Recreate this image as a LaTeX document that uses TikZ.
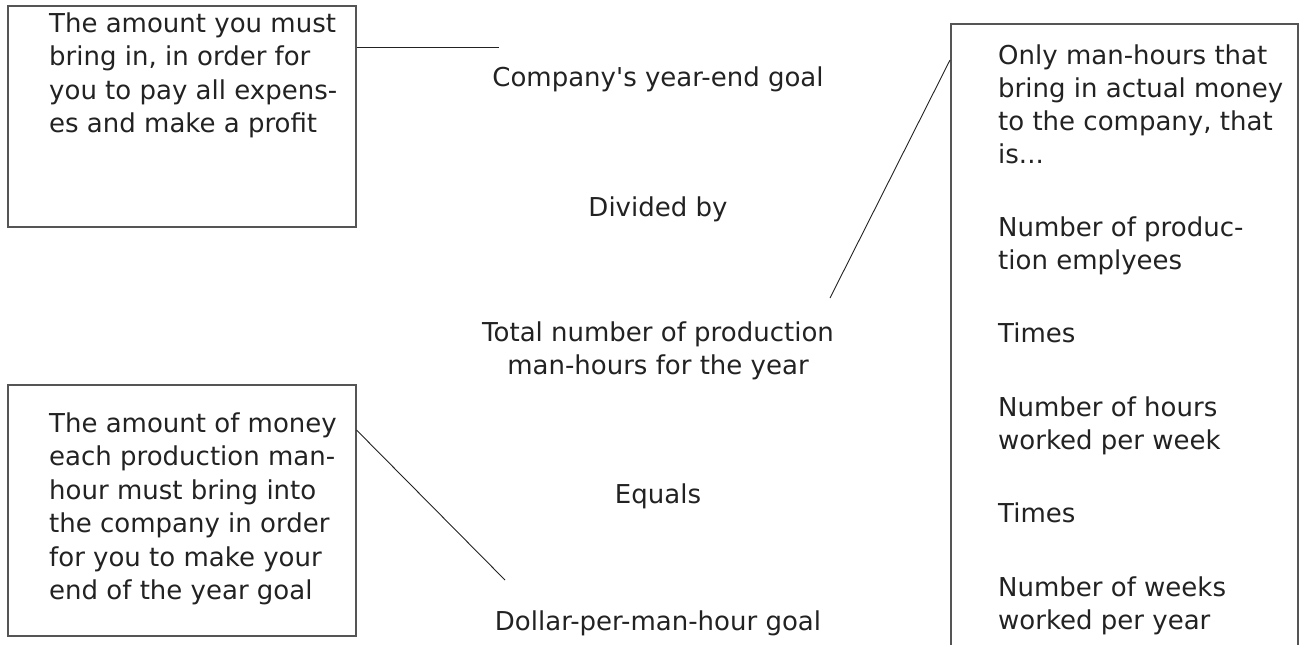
\documentclass[tikz,border=0pt]{standalone}
\usepackage{fontspec}
\setmainfont{DejaVu Sans}
\definecolor{ink}{HTML}{222222}
\definecolor{edge}{HTML}{555555}
\begin{document}
\begin{tikzpicture}[x=1pt,y=-1pt,
  boxstyle/.style={draw=edge, line width=1.5pt, inner sep=0pt, anchor=north west, minimum width=348pt},
  txt/.style={font=\fontsize{26}{33.5}\selectfont, text=ink, inner sep=0pt, align=left, anchor=base west},
  ctxt/.style={font=\fontsize{26}{33}\selectfont, text=ink, inner sep=0pt, align=center, anchor=base},
  rtxt/.style={font=\fontsize{26}{33}\selectfont, text=ink, inner sep=0pt, align=left, anchor=base west},
  leader/.style={draw=ink, line width=0.9pt}]
\useasboundingbox (0,0) rectangle (1299,645);
\clip (0,0) rectangle (1299,645);
% boxes
\node[boxstyle, minimum height=221pt] (b1) at (7,5) {};
\node[boxstyle, minimum height=251pt] (b2) at (7,384) {};
\node[boxstyle, minimum width=347pt, minimum height=700pt] (b3) at (950,23) {};
% box texts (anchored at the baseline of the last line)
\node[txt] (t1) at (49,132.5) {The amount you must\\bring in, in order for\\you to pay all expens-\\es and make a profit};
\node[txt] (t2) at (49,599.5) {The amount of money\\each production man-\\hour must bring into\\the company in order\\for you to make your\\end of the year goal};
% centre column
\node[ctxt] (goal) at (658,86) {Company\textquotesingle s year-end goal};
\node[ctxt] (div) at (658,216) {Divided by};
\node[ctxt] (total) at (658,374) {Total number of production\\man-hours for the year};
\node[ctxt] (eq) at (658,503) {Equals};
\node[ctxt] (dollar) at (658,630) {Dollar-per-man-hour goal};
% right column
\node[rtxt] (r1) at (998,163) {Only man-hours that\\bring in actual money\\to the company, that\\is...};
\node[rtxt] (r2) at (998,269) {Number of produc-\\tion emplyees};
\node[rtxt] (r3) at (998,342) {Times};
\node[rtxt] (r4) at (998,449) {Number of hours\\worked per week};
\node[rtxt] (r5) at (998,522) {Times};
\node[rtxt] (r6) at (998,629) {Number of weeks\\worked per year};
% leader lines
\coordinate (c1) at (499,47);
\coordinate (c2) at (830,298);
\coordinate (c2b) at (950,60);
\coordinate (c3) at (505,580);
\coordinate (c3b) at (355,430);
\draw[leader] (b1.east |- c1) -- (c1);
\draw[leader] (c2) -- (b3.west |- c2b);
\draw[leader] (b2.east |- c3b) -- (c3);
\end{tikzpicture}
\end{document}
